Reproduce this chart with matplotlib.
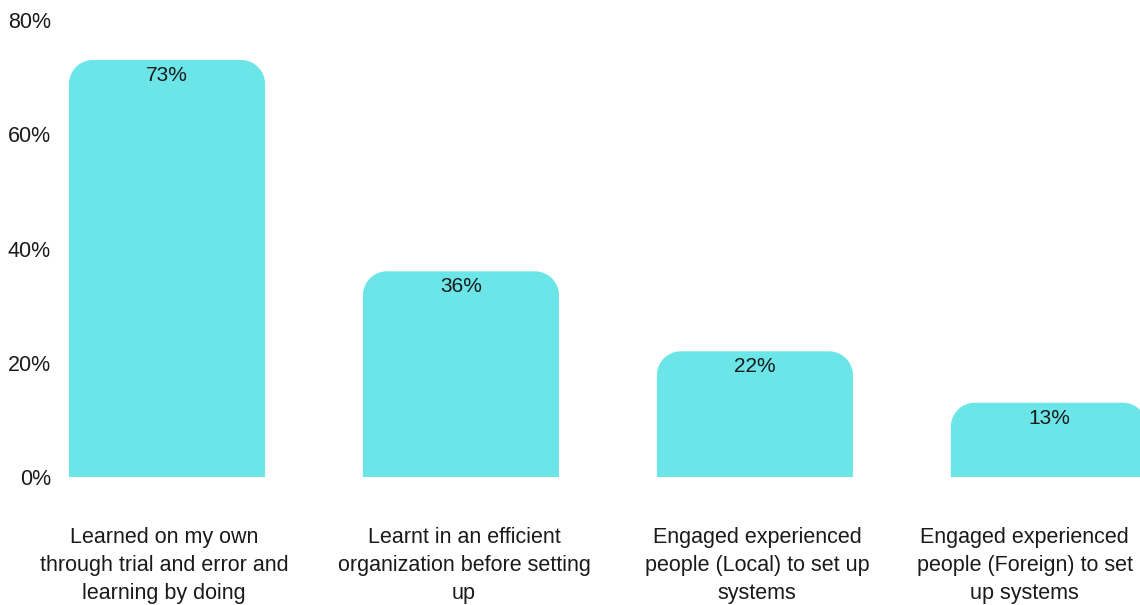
import numpy as np
import matplotlib.pyplot as plt
from matplotlib.path import Path
from matplotlib.patches import PathPatch

plt.rcParams['font.family'] = ['Liberation Sans', 'DejaVu Sans']

categories = [
    'Learned on my own\nthrough trial and error and\nlearning by doing',
    'Learnt in an efficient\norganization before setting\nup',
    'Engaged experienced\npeople (Local) to set up\nsystems',
    'Engaged experienced\npeople (Foreign) to set\nup systems',
]
values = [73, 36, 22, 13]
y_ticks = [0, 20, 40, 60, 80]

bar_color = '#6be5e8'
text_color = '#1a1a1a'
corner_px = 24  # radius of the rounded top corners, in pixels
label_shift_px = [-3, 3, 2, -24]  # keep the last label inside the figure

fig = plt.figure(figsize=(11.4, 6.05), dpi=100)
ax = fig.add_axes([55 / 1140, (605 - 477) / 605, (1140 - 55) / 1140, (477 - 20) / 605])

x = np.arange(len(categories))
bars = ax.bar(x, values, width=0.667, color=bar_color)
ax.set_xlim(-0.381, 3.31)
ax.set_ylim(0, 80)


def rounded_top(x0, x1, y0, y1, rx, ry, n=20):
    """Polygon of a bar with rounded upper corners (radii in data units)."""
    ry = min(ry, y1 - y0)
    t = np.linspace(0, np.pi / 2, n)
    right = np.column_stack([x1 - rx + rx * np.cos(t), y1 - ry + ry * np.sin(t)])
    left = np.column_stack([x0 + rx - rx * np.cos(t[::-1]), y1 - ry + ry * np.sin(t[::-1])])
    pts = np.vstack([[x0, y0], [x1, y0], right, left, [x0, y0]])
    return Path(pts, closed=True)


# data units per pixel, to keep the corners circular on screen
fig.canvas.draw()
p0 = ax.transData.transform((0, 0))
p1 = ax.transData.transform((1, 1))
rx = corner_px / (p1[0] - p0[0])
ry = corner_px / (p1[1] - p0[1])

for b in bars:
    x0, y0 = b.get_x(), b.get_y()
    x1, y1 = x0 + b.get_width(), y0 + b.get_height()
    b.set_visible(False)
    ax.add_patch(PathPatch(rounded_top(x0, x1, y0, y1, rx, ry),
                           facecolor=bar_color, edgecolor='none'))

for xi, v in zip(x, values):
    ax.annotate(f'{v}%', (xi, v), xytext=(0, -6), textcoords='offset pixels',
                ha='center', va='top', fontsize=15, color=text_color)

# category labels under the bars
for xi, lab, dx in zip(x, categories, label_shift_px):
    ax.annotate(lab, (xi, 0), xytext=(dx, -50), textcoords='offset pixels',
                ha='center', va='top', multialignment='center',
                fontsize=15.5, linespacing=1.45, color=text_color,
                annotation_clip=False)

ax.set_yticks(y_ticks)
ax.set_yticklabels([f'{t}%' for t in y_ticks], fontsize=15.5, color=text_color)
ax.set_xticks([])
ax.tick_params(axis='both', length=0)
ax.tick_params(axis='y', pad=3)
for s in ax.spines.values():
    s.set_visible(False)

fig.savefig('out.png', dpi=100)
